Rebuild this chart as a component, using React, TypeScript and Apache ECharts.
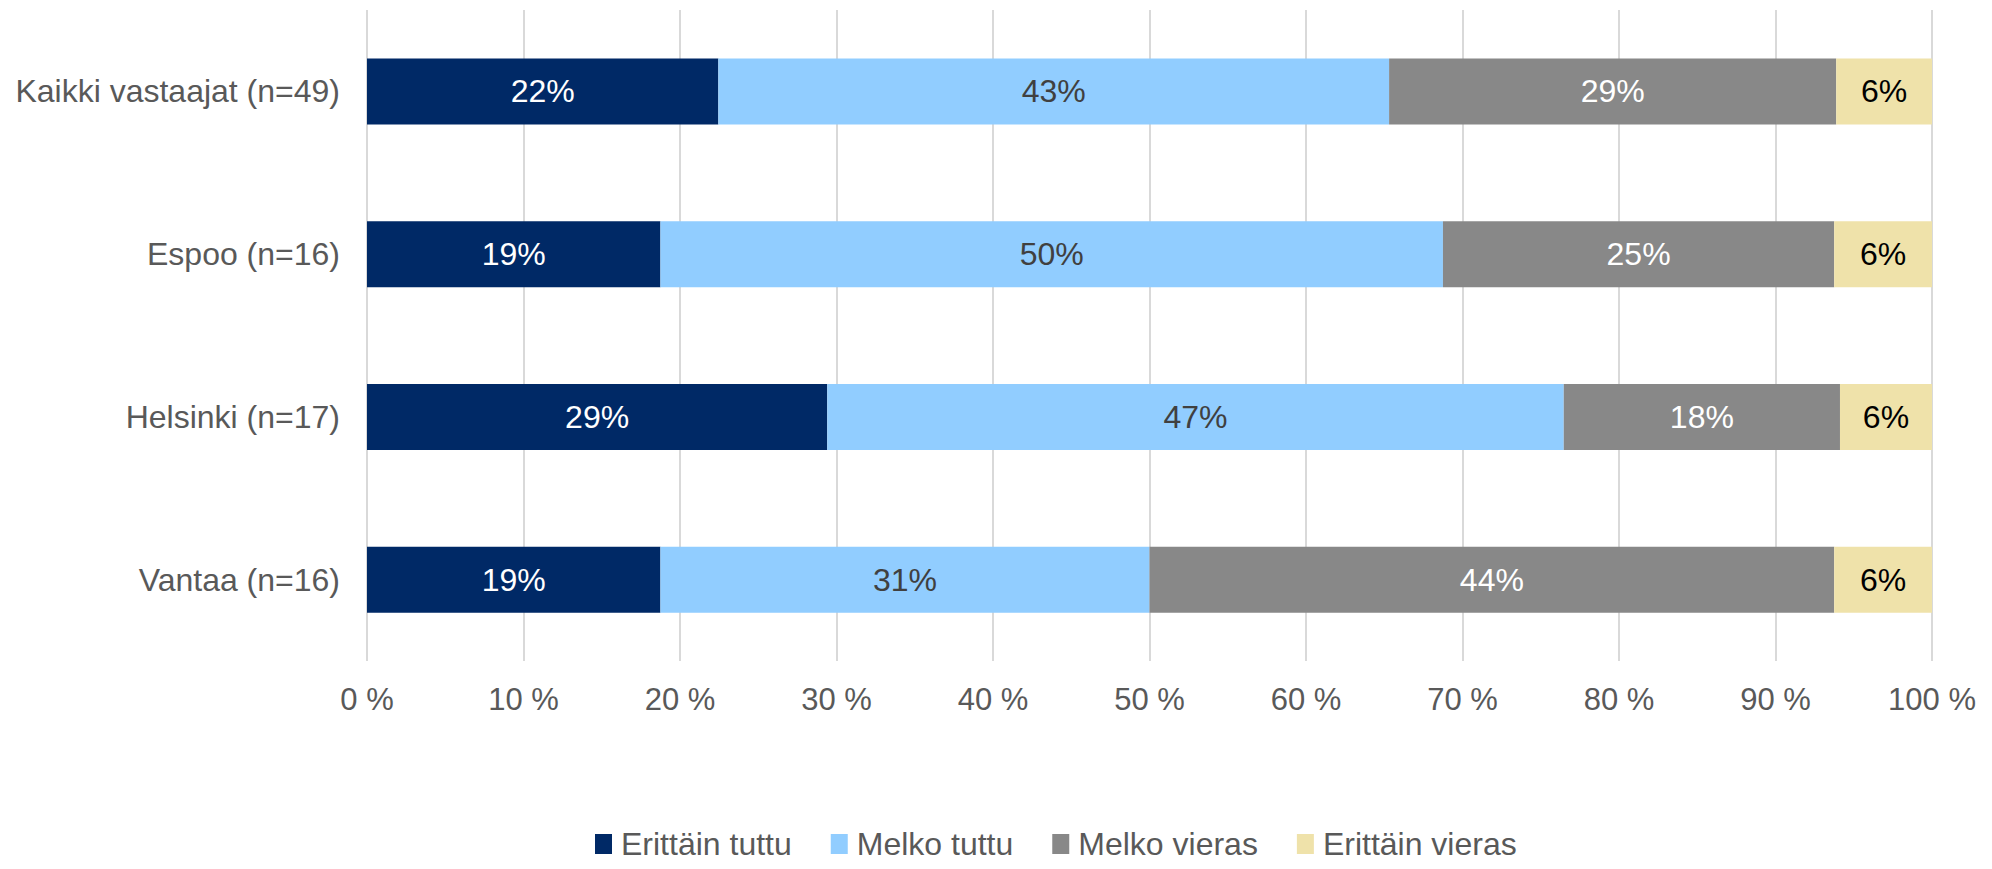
import React, { useEffect, useRef } from "react";
import * as echarts from "echarts";

const categories = ["Kaikki vastaajat (n=49)", "Espoo (n=16)", "Helsinki (n=17)", "Vantaa (n=16)"];
const seriesNames = ["Erittäin tuttu", "Melko tuttu", "Melko vieras", "Erittäin vieras"];
const erittainTuttu = [22.45, 18.75, 29.41, 18.75];
const melkoTuttu = [42.86, 50.0, 47.06, 31.25];
const melkoVieras = [28.57, 25.0, 17.65, 43.75];
const erittainVieras = [6.12, 6.25, 5.88, 6.25];
const xTicks = [0, 10, 20, 30, 40, 50, 60, 70, 80, 90, 100];

const colors = ["#002966", "#91CDFF", "#888888", "#EFE2AA"];
const labelColors = ["#FFFFFF", "#404040", "#FFFFFF", "#000000"];
const FONT = "'Liberation Sans', Arial, sans-serif";

export default function App() {
  const ref = useRef<HTMLDivElement>(null);
  useEffect(() => {
    if (!ref.current) return;
    const chart = echarts.init(ref.current, undefined, { renderer: "svg" });
    const data = [erittainTuttu, melkoTuttu, melkoVieras, erittainVieras];
    chart.setOption({
      animation: false,
      textStyle: { fontFamily: FONT },
      grid: { left: 367, right: 60, top: 10, bottom: 208, containLabel: false },
      legend: {
        left: 590,
        top: 822,
        itemWidth: 17,
        itemHeight: 20,
        itemGap: 39,
        icon: "rect",
        textStyle: {
          fontSize: 32,
          lineHeight: 34,
          color: "#595959",
          fontFamily: FONT,
          padding: [0, 0, 0, 4],
        },
        data: seriesNames,
      },
      xAxis: {
        type: "value",
        min: xTicks[0],
        max: xTicks[xTicks.length - 1],
        interval: 10,
        axisLine: { show: false },
        axisTick: { show: false },
        splitLine: { show: true, lineStyle: { color: "#D9D9D9", width: 2 } },
        axisLabel: {
          margin: 23,
          fontSize: 31,
          color: "#595959",
          fontFamily: FONT,
          formatter: (v: number) => `${v} %`,
        },
      },
      yAxis: {
        type: "category",
        data: categories,
        inverse: true,
        axisLine: { show: false },
        axisTick: { show: false },
        axisLabel: { margin: 27, fontSize: 32, color: "#595959", fontFamily: FONT },
      },
      series: seriesNames.map((name, i) => ({
        name,
        type: "bar",
        stack: "total",
        barWidth: 66,
        itemStyle: { color: colors[i] },
        label: {
          show: true,
          position: "inside",
          fontSize: 32,
          fontFamily: FONT,
          color: labelColors[i],
          formatter: (p: any) => `${Math.round(p.value)}%`,
        },
        data: data[i],
      })),
    });
    return () => chart.dispose();
  }, []);
  return (
    <div
      ref={ref}
      style={{ position: "fixed", left: 0, top: 0, width: 1992, height: 869, background: "#fff" }}
    />
  );
}
